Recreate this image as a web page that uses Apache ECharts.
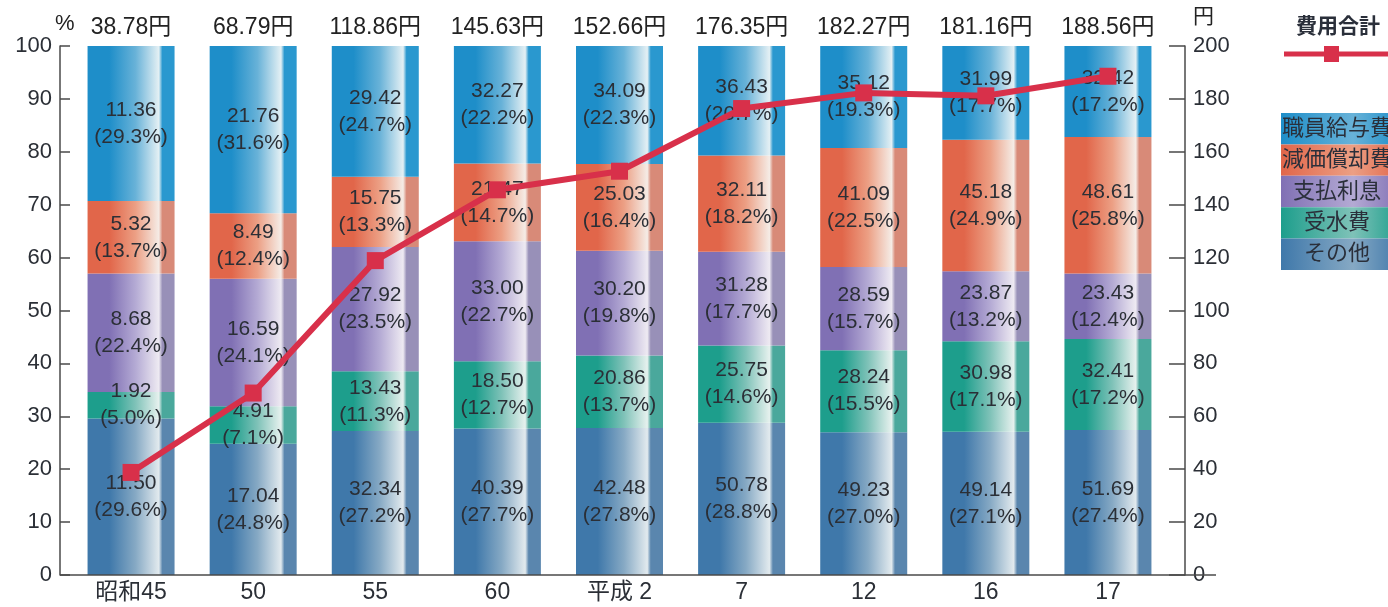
<!DOCTYPE html>
<html>
<head>
<meta charset="utf-8">
<script src="https://cdn.jsdelivr.net/npm/echarts@6/dist/echarts.min.js"></script>
<style>
  html, body { margin: 0; padding: 0; background: #ffffff; }
  #chart { width: 1388px; height: 607px; }
</style>
</head>
<body>
<div id="chart"></div>
<script>
// 年度
const years = ['昭和45', '50', '55', '60', '平成 2', '7', '12', '16', '17'];

// 費用の内訳（円）と構成比（%）
const sonotaVal  = [11.50, 17.04, 32.34, 40.39, 42.48, 50.78, 49.23, 49.14, 51.69];
const sonotaPct  = [29.6, 24.8, 27.2, 27.7, 27.8, 28.8, 27.0, 27.1, 27.4];
const jusuiVal   = [1.92, 4.91, 13.43, 18.50, 20.86, 25.75, 28.24, 30.98, 32.41];
const jusuiPct   = [5.0, 7.1, 11.3, 12.7, 13.7, 14.6, 15.5, 17.1, 17.2];
const shiharaiVal = [8.68, 16.59, 27.92, 33.00, 30.20, 31.28, 28.59, 23.87, 23.43];
const shiharaiPct = [22.4, 24.1, 23.5, 22.7, 19.8, 17.7, 15.7, 13.2, 12.4];
const genkaVal   = [5.32, 8.49, 15.75, 21.47, 25.03, 32.11, 41.09, 45.18, 48.61];
const genkaPct   = [13.7, 12.4, 13.3, 14.7, 16.4, 18.2, 22.5, 24.9, 25.8];
const kyuyoVal   = [11.36, 21.76, 29.42, 32.27, 34.09, 36.43, 35.12, 31.99, 32.42];
const kyuyoPct   = [29.3, 31.6, 24.7, 22.2, 22.3, 20.7, 19.3, 17.7, 17.2];

// 費用合計（円）
const totals = [38.78, 68.79, 118.86, 145.63, 152.66, 176.35, 182.27, 181.16, 188.56];

// 左軸・右軸の目盛り
const leftTicks = { min: 0, max: 100, interval: 10 };
const rightTicks = { min: 0, max: 200, interval: 20 };

const FONT = '"Liberation Sans", "Noto Sans CJK JP", sans-serif';
const TEXT = '#2b2f36';

// 横方向に光沢の入った棒のグラデーション
function sheen(base, mid, hi, edge) {
  return {
    type: 'linear', x: 0, y: 0, x2: 1, y2: 0,
    colorStops: [
      { offset: 0, color: base },
      { offset: 0.25, color: base },
      { offset: 0.55, color: mid },
      { offset: 0.82, color: hi },
      { offset: 0.86, color: edge },
      { offset: 1, color: edge }
    ]
  };
}

const segments = [
  { name: 'その他',   val: sonotaVal,   pct: sonotaPct,   c: ['#3f78aa', '#86a9c4', '#e2eaee', '#5a86ae'] },
  { name: '受水費',   val: jusuiVal,    pct: jusuiPct,    c: ['#1d9e8c', '#7fc2b8', '#e6f1ee', '#4aa89c'] },
  { name: '支払利息', val: shiharaiVal, pct: shiharaiPct, c: ['#8070b4', '#b4aad4', '#eeeaf2', '#9890b8'] },
  { name: '減価償却費', val: genkaVal,  pct: genkaPct,    c: ['#e1664a', '#ec9f84', '#f5ece6', '#d88a78'] },
  { name: '職員給与費', val: kyuyoVal,  pct: kyuyoPct,    c: ['#1e8ec9', '#68b2d8', '#e4f0f4', '#2a98cf'] }
];

const barSeries = segments.map(s => ({
  name: s.name,
  type: 'bar',
  stack: 'cost',
  barWidth: 87,
  xAxisIndex: 0,
  yAxisIndex: 0,
  itemStyle: { color: sheen(s.c[0], s.c[1], s.c[2], s.c[3]) },
  label: {
    show: true,
    position: 'inside',
    fontFamily: FONT,
    fontSize: 21,
    lineHeight: 27,
    color: TEXT,
    formatter: p => s.val[p.dataIndex].toFixed(2) + '\n(' + s.pct[p.dataIndex].toFixed(1) + '%)'
  },
  data: s.pct,
  z: 2
}));

const chart = echarts.init(document.getElementById('chart'));

const legendX = 1281;
const legendRows = segments.slice().reverse();
const legendGraphics = [];
legendRows.forEach((s, i) => {
  legendGraphics.push({
    type: 'rect',
    shape: { x: legendX, y: 113 + i * 31.4, width: 120, height: 31.4 },
    style: {
      fill: {
        type: 'linear', x: 0, y: 0, x2: 1, y2: 0,
        colorStops: [
          { offset: 0, color: s.c[0] },
          { offset: 0.6, color: s.c[1] },
          { offset: 1, color: s.c[0] }
        ]
      }
    },
    silent: true
  });
  legendGraphics.push({
    type: 'text',
    x: 1337, y: 113 + i * 31.4 + 15.7,
    style: {
      text: s.name, fill: '#2a2f3a', font: '22px ' + FONT,
      align: 'center', verticalAlign: 'middle'
    },
    silent: true
  });
});

chart.setOption({
  backgroundColor: '#ffffff',
  animation: false,
  grid: { left: 70, right: 219, top: 46, bottom: 32, containLabel: false },
  xAxis: [
    {
      type: 'category',
      data: years,
      boundaryGap: true,
      axisLine: { show: false },
      axisTick: { show: false },
      axisLabel: { color: TEXT, fontFamily: FONT, fontSize: 23, margin: 6 }
    },
    {
      type: 'category',
      data: years,
      position: 'top',
      boundaryGap: true,
      axisLine: { show: false },
      axisTick: { show: false },
      axisLabel: {
        color: '#222', fontFamily: FONT, fontSize: 23, margin: 7,
        formatter: (v, i) => totals[i].toFixed(2) + '円'
      }
    }
  ],
  yAxis: [
    {
      type: 'value',
      min: leftTicks.min, max: leftTicks.max, interval: leftTicks.interval,
      position: 'left',
      offset: 10,
      name: '%',
      nameLocation: 'end',
      nameGap: 16,
      nameTextStyle: { color: '#222', fontFamily: FONT, fontSize: 22, align: 'left', verticalAlign: 'middle', padding: [0, 0, 0, -5] },
      axisLine: { show: true, lineStyle: { color: '#4a4a4a', width: 1.5 } },
      axisTick: { show: true, inside: true, length: 10, lineStyle: { color: '#4a4a4a', width: 1.5 } },
      axisLabel: { color: TEXT, fontFamily: FONT, fontSize: 22, margin: 8 },
      splitLine: { show: false }
    },
    {
      type: 'value',
      min: rightTicks.min, max: rightTicks.max, interval: rightTicks.interval,
      position: 'right',
      offset: 16,
      name: '円',
      nameLocation: 'end',
      nameGap: 18,
      nameTextStyle: { color: '#222', fontFamily: FONT, fontSize: 21, align: 'left', padding: [0, 0, 0, 8] },
      axisLine: { show: true, lineStyle: { color: '#4a4a4a', width: 1.5 } },
      axisTick: { show: true, inside: true, length: 16, lineStyle: { color: '#4a4a4a', width: 1.5 } },
      axisLabel: { color: TEXT, fontFamily: FONT, fontSize: 22, margin: 8 },
      splitLine: { show: false }
    }
  ],
  series: barSeries.concat([
    {
      name: '費用合計',
      type: 'line',
      xAxisIndex: 0,
      yAxisIndex: 1,
      data: totals,
      symbol: 'rect',
      symbolSize: 17,
      lineStyle: { color: '#d8304a', width: 6 },
      itemStyle: { color: '#d8304a' },
      z: 5
    }
  ]),
  graphic: [
    // 底辺の基線
    {
      type: 'line',
      shape: { x1: 60, y1: 575, x2: 1216, y2: 575 },
      style: { stroke: '#4a4a4a', lineWidth: 1.5 },
      silent: true, z: 10
    },
    // 凡例：費用合計
    {
      type: 'text', x: 1338, y: 27,
      style: { text: '費用合計', fill: '#2a2f3a', font: 'bold 21px ' + FONT, align: 'center', verticalAlign: 'middle' },
      silent: true
    },
    {
      type: 'line',
      shape: { x1: 1284, y1: 54, x2: 1392, y2: 54 },
      style: { stroke: '#d8304a', lineWidth: 5 },
      silent: true
    },
    {
      type: 'rect',
      shape: { x: 1324, y: 46, width: 15, height: 16 },
      style: { fill: '#d8304a' },
      silent: true
    }
  ].concat(legendGraphics)
});
</script>
</body>
</html>
